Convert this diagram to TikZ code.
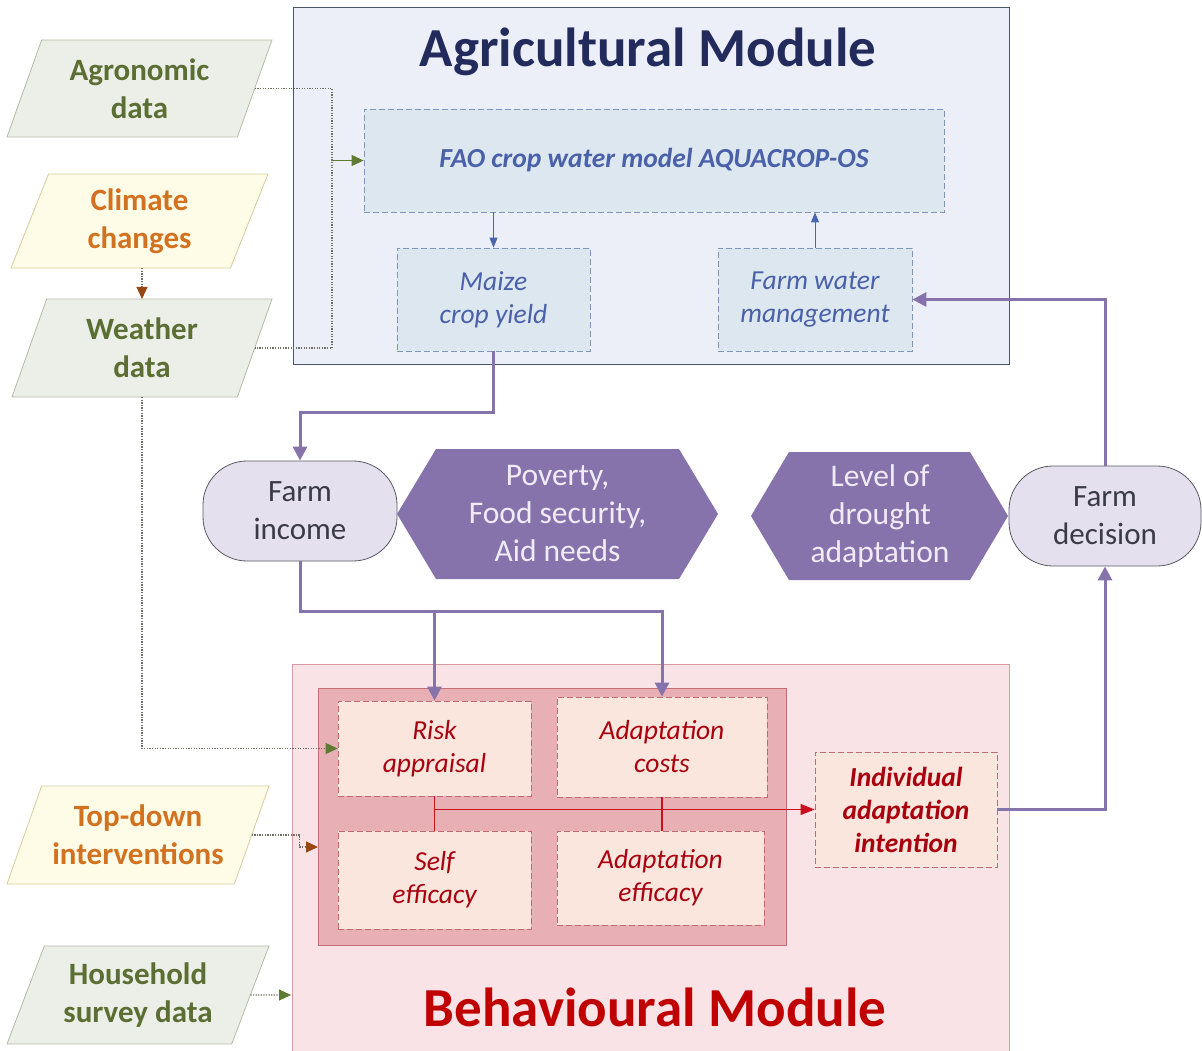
\documentclass[tikz,border=0pt]{standalone}
\usepackage{fontspec}
\setmainfont{Carlito}
\usetikzlibrary{arrows.meta,shapes.geometric,calc}

\definecolor{agfill}{HTML}{ECEFF7}
\definecolor{agline}{HTML}{4A5568}
\definecolor{agtitle}{HTML}{222B5B}
\definecolor{faofill}{HTML}{DCE7F0}
\definecolor{faoline}{HTML}{7F95BA}
\definecolor{bluetext}{HTML}{4A60A8}
\definecolor{bluearrow}{HTML}{4A66B0}
\definecolor{befill}{HTML}{F9E3E6}
\definecolor{beline}{HTML}{D99AA3}
\definecolor{corefill}{HTML}{E8B0B4}
\definecolor{coreline}{HTML}{C46E78}
\definecolor{cellfill}{HTML}{FAE6DC}
\definecolor{cellline}{HTML}{BF6A72}
\definecolor{redtext}{HTML}{A8000F}
\definecolor{redtitle}{HTML}{C00000}
\definecolor{redline}{HTML}{C8101E}
\definecolor{purp}{HTML}{8673AC}
\definecolor{lav}{HTML}{E4E0EE}
\definecolor{lavtext}{HTML}{F0EBF7}
\definecolor{darktext}{HTML}{3A3A48}
\definecolor{grnfill}{HTML}{ECEFE7}
\definecolor{grnline}{HTML}{B4BBA8}
\definecolor{grntext}{HTML}{5B6E33}
\definecolor{ylwfill}{HTML}{FEFCE6}
\definecolor{ylwline}{HTML}{D6CC9E}
\definecolor{orgtext}{HTML}{D2711F}
\definecolor{dotgray}{HTML}{6E6E62}
\definecolor{grnhead}{HTML}{5E7A33}
\definecolor{brnhead}{HTML}{974812}

\begin{document}
\begin{tikzpicture}[x=1pt,y=-1pt,
  datapara/.style={trapezium, trapezium left angle=60, trapezium right angle=120,
    trapezium stretches body, minimum height=97, minimum width=262,
    inner sep=0, outer sep=0, line width=0.8, align=center,
    font=\fontsize{31}{38}\selectfont\bfseries},
  greendata/.style={datapara, draw=grnline, fill=grnfill, text=grntext},
  yellowdata/.style={datapara, draw=ylwline, fill=ylwfill, text=orgtext},
  agcell/.style={draw=faoline, dash pattern=on 6pt off 3pt, fill=faofill, line width=0.8,
    inner sep=0, align=center, text=bluetext, font=\fontsize{27.5}{33}\selectfont\itshape},
  cell/.style={draw=cellline, dash pattern=on 6pt off 3pt, fill=cellfill, line width=0.8,
    inner sep=0, align=center, text=redtext, font=\fontsize{27.5}{33}\selectfont\itshape},
  stadium/.style={rectangle, rounded corners=44, draw=darktext!85, fill=lav, line width=0.8,
    minimum width=194, minimum height=100, inner sep=0, align=center, text=darktext,
    font=\fontsize{31}{38}\selectfont},
  hextext/.style={align=center, text=lavtext, font=\fontsize{31.5}{38}\selectfont},
  purpar/.style={draw=purp, line width=3, -{Triangle[length=14,width=14]}},
  bluear/.style={draw=bluearrow, line width=0.9, -{Triangle[length=10,width=8]}},
  redar/.style={draw=redline, line width=1.1},
  dotline/.style={draw=dotgray, line width=1.1, dash pattern=on 1.3pt off 1.3pt},
  grnar/.style={-{Triangle[length=12,width=11,color=grnhead]}},
  brnar/.style={-{Triangle[length=12,width=11,color=brnhead]}}
]
\useasboundingbox (0,0) rectangle (1202,1051);

% ---------- Agricultural module ----------
\node[draw=agline, fill=agfill, line width=1, minimum width=716, minimum height=356, inner sep=0]
  (agr) at (651,186) {};
\node[text=agtitle, font=\fontsize{55}{62}\selectfont\bfseries] (agrtitle) at (648,52) {Agricultural Module};
\node[agcell, minimum width=580, minimum height=103, font=\fontsize{27.5}{30}\selectfont\bfseries\itshape]
  (fao) at (654,160.5) {FAO crop water model AQUACROP-OS};
\node[agcell, minimum width=193, minimum height=103] (maize) at (493.5,299.5) {Maize\\crop yield};
\node[agcell, minimum width=194, minimum height=103] (fwm) at (815,299.5) {Farm water\\management};
\draw[bluear] (fao.south -| maize.north) -- (maize.north);
\draw[bluear] (fwm.north) -- (fwm.north |- fao.south);

% ---------- Behavioural module ----------
\node[fill=befill, minimum width=716, minimum height=400, inner sep=0] (beh) at (651,865) {};
\draw[draw=beline, line width=1] (beh.south west) |- (beh.north east) -- (beh.south east);
\node[text=redtitle, font=\fontsize{55}{62}\selectfont\bfseries] (behtitle) at (655,1007) {Behavioural Module};
\node[draw=coreline, fill=corefill, line width=0.9, minimum width=468, minimum height=257, inner sep=0]
  (core) at (552,816.5) {};
\node[cell, minimum width=193, minimum height=95] (risk) at (434.5,748.5) {Risk\\appraisal};
\node[cell, minimum width=210, minimum height=100] (cost) at (662,747) {Adaptation\\costs};
\node[cell, minimum width=193, minimum height=98] (self) at (434.5,880) {Self\\efficacy};
\node[cell, minimum width=207, minimum height=94] (aeff) at (660.5,878) {Adaptation\\efficacy};
\node[cell, minimum width=182, minimum height=115, font=\fontsize{27.5}{33}\selectfont\bfseries\itshape]
  (intent) at (906,809.5) {Individual\\adaptation\\intention};

% red links between the constructs
\draw[redar] (risk.south) -- (self.north);
\draw[redar] (cost.south) -- (cost.south |- aeff.north);
\draw[redar, -{Triangle[length=14,width=11]}] (risk.south |- intent.west) -- (intent.west);

% ---------- Farm level nodes ----------
\node[stadium] (finc) at (300,511) {Farm\\income};
\node[stadium, minimum width=192] (fdec) at (1105,516) {Farm\\decision};

\fill[purp] (397,514) -- (436,449) -- (679,449) -- (718,514) -- (679,579) -- (436,579) -- cycle;
\node[hextext] (pov) at (557.5,514) {Poverty,\\Food security,\\Aid needs};
\fill[purp] (751,516) -- (789,452) -- (970,452) -- (1008,516) -- (970,580) -- (789,580) -- cycle;
\node[hextext] (lvl) at (880,516) {Level of\\drought\\adaptation};

% purple flows
\draw[purpar] (maize.south) -- ++(0,61) -| (finc.north);
\draw[purpar] (finc.south) -- ++(0,50) -| (risk.north);
\draw[purpar] (finc.south) -- ++(0,50) -| (cost.north);
\draw[purpar] (intent.east) -| (fdec.south);
\draw[purpar] (fdec.north) |- (fwm.east);

% ---------- Input data ----------
\node[greendata, minimum width=265] (agro) at (139.5,88.5) {Agronomic\\data};
\node[yellowdata, minimum width=257, minimum height=94] (clim) at (139.5,221) {Climate\\changes};
\node[greendata, minimum width=260, minimum height=98] (wthr) at (142,348) {Weather\\data};
\node[yellowdata, minimum width=262, minimum height=98] (topd) at (138,835) {Top-down\\interventions};
\node[greendata, minimum width=262, minimum height=98] (hhs) at (138,995) {Household\\survey data};

\coordinate (bus) at (332,160.5);
\coordinate (tdin) at (318,847);
\coordinate (hhin) at (291,995);

\draw[dotline] (agro.east) -| (bus) |- (wthr.east);
\draw[draw=grnhead, line width=0.9, grnar] (bus) -- (fao.west);
\draw[dotline, brnar] (wthr.north |- clim.south) -- (wthr.north);
\draw[dotline, grnar] (wthr.south) |- (risk.west);
\draw[dotline, brnar] (topd.east) -- ++(48,0) |- (tdin);
\draw[dotline, grnar] (hhs.east) -- (hhin);

\end{tikzpicture}
\end{document}
